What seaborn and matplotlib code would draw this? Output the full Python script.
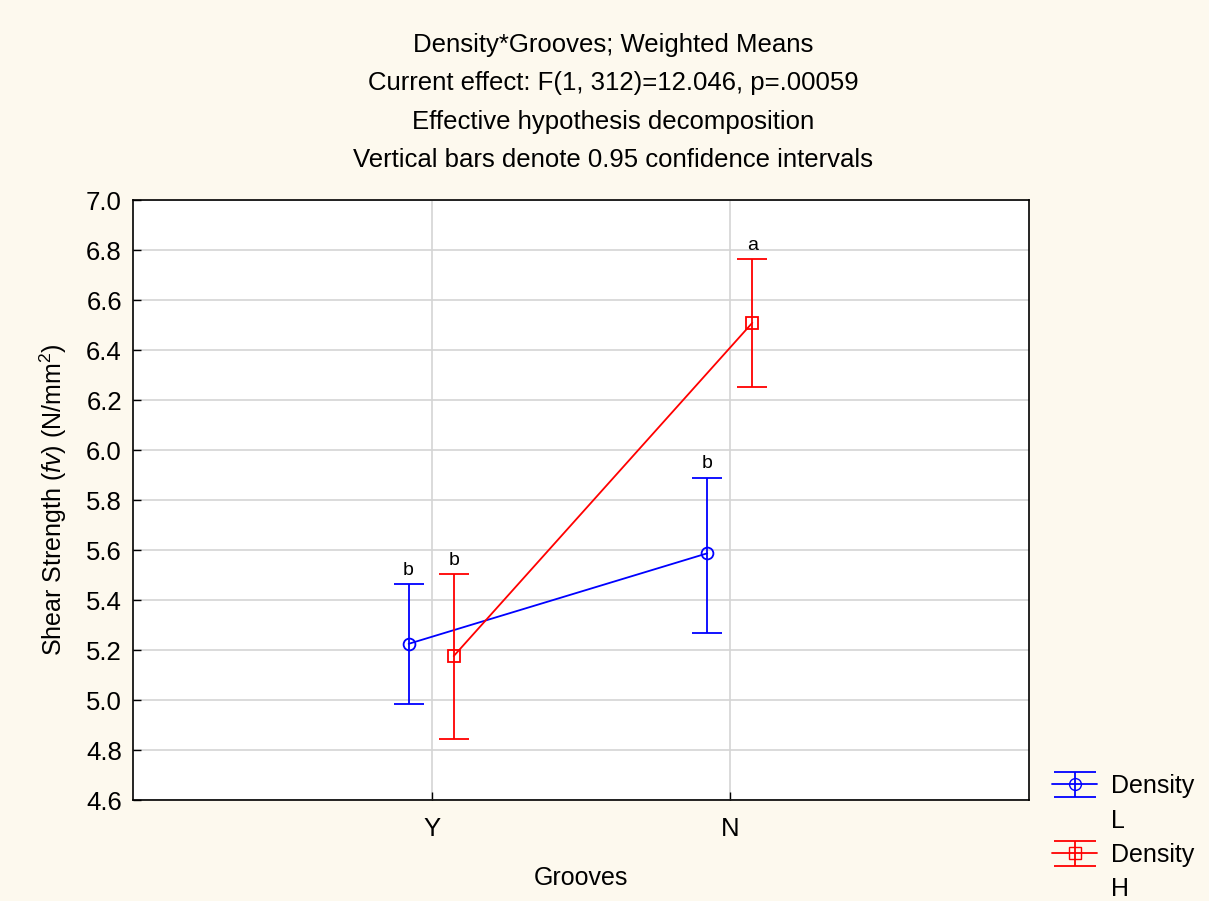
import matplotlib
matplotlib.use("Agg")
import matplotlib.pyplot as plt
import seaborn as sns
import pandas as pd
import numpy as np
from matplotlib.lines import Line2D

grooves = ["Y", "N"]
density = ["L", "H"]
means_L = [5.225, 5.587]
lo_L = [4.985, 5.267]
hi_L = [5.463, 5.889]
means_H = [5.176, 6.509]
lo_H = [4.844, 6.253]
hi_H = [5.504, 6.763]
letters_L = ["b", "b"]
letters_H = ["b", "a"]

sns.set_theme(style="white")
plt.rcParams["font.family"] = ["Liberation Sans", "DejaVu Sans"]
plt.rcParams["mathtext.fontset"] = "custom"
plt.rcParams["mathtext.rm"] = "Liberation Sans"
plt.rcParams["mathtext.it"] = "Liberation Sans:italic"

bg = "#fdf9ee"
fig = plt.figure(figsize=(12.09, 9.01), dpi=100, facecolor=bg)
ax = fig.add_axes([0.110, 0.112, 0.741, 0.666])
ax.set_facecolor("white")

df = pd.DataFrame({
    "Grooves": grooves * 2,
    "Density": ["L"] * 2 + ["H"] * 2,
    "mean": means_L + means_H,
    "lo": lo_L + lo_H,
    "hi": hi_L + hi_H,
})

colors = {"L": "#0000ff", "H": "#ff0000"}
markers = {"L": "o", "H": "s"}
msize = {"L": 8.5, "H": 8.0}
offs = {"L": -0.077, "H": 0.074}
xpos = {"Y": 0, "N": 1}

for d in density:
    sub = df[df.Density == d].copy()
    sub["x"] = [xpos[g] + offs[d] for g in sub.Grooves]
    sns.lineplot(data=sub, x="x", y="mean", ax=ax, color=colors[d], lw=1.3,
                 marker=markers[d], markersize=msize[d], markerfacecolor="none",
                 markeredgecolor=colors[d], markeredgewidth=1.3, legend=False,
                 zorder=3)
    ax.errorbar(sub["x"], sub["mean"],
                yerr=[sub["mean"] - sub["lo"], sub["hi"] - sub["mean"]],
                fmt="none", ecolor=colors[d], elinewidth=1.3, capsize=10.5,
                capthick=1.3, zorder=3)
    lets = letters_L if d == "L" else letters_H
    for xx, h, t in zip(sub["x"], sub["hi"], lets):
        ax.text(xx, h + 0.022, t, ha="center", va="bottom", fontsize=14,
                color="black")

ax.set_xlim(-1, 2)
ax.set_ylim(4.6, 7.0)
ax.set_xticks([0, 1])
ax.set_xticklabels(grooves)
yt = np.arange(4.6, 7.01, 0.2)
ax.set_yticks(yt)
ax.set_yticklabels([f"{v:.1f}" for v in yt])
ax.grid(True, color="#d4d4d4", lw=1.2)
ax.set_axisbelow(True)
for s in ax.spines.values():
    s.set_visible(True)
    s.set_color("black")
    s.set_linewidth(1.2)
ax.tick_params(axis="both", direction="in", length=6, width=1, labelsize=18.5,
               colors="black", left=True, bottom=True)
ax.tick_params(axis="y", pad=8)
ax.tick_params(axis="x", pad=12)
ax.set_xlabel("Grooves", fontsize=18, labelpad=18, color="black")
ax.set_ylabel(r"Shear Strength ($\mathit{fv}$) (N/mm$^2$)", fontsize=18,
              labelpad=12, color="black")

titles = ["Density*Grooves; Weighted Means",
          "Current effect: F(1, 312)=12.046, p=.00059",
          "Effective hypothesis decomposition",
          "Vertical bars denote 0.95 confidence intervals"]
for i, t in enumerate(titles):
    fig.text(0.507, 1 - (45 + 38.3 * i) / 901, t, ha="center", va="center",
             fontsize=18.5, color="black")

handles = []
labels = []
for d in density:
    h = ax.errorbar([np.nan], [np.nan], yerr=[[0.1]], color=colors[d],
                    marker=markers[d], markerfacecolor="none",
                    markersize=msize[d], lw=1.3, capsize=15, capthick=1.3)
    handles.append(h)
    labels.append("Density")
    handles.append(Line2D([], [], alpha=0))
    labels.append(d)
leg = fig.legend(handles, labels, loc="upper left",
                 bbox_to_anchor=(1042 / 1209, 1 - 764 / 901), frameon=False,
                 fontsize=18, handlelength=1.8, labelspacing=0.42,
                 handletextpad=0.55, borderaxespad=0)
for t in leg.get_texts():
    t.set_color("black")

fig.savefig("out.png", dpi=100, facecolor=bg)
